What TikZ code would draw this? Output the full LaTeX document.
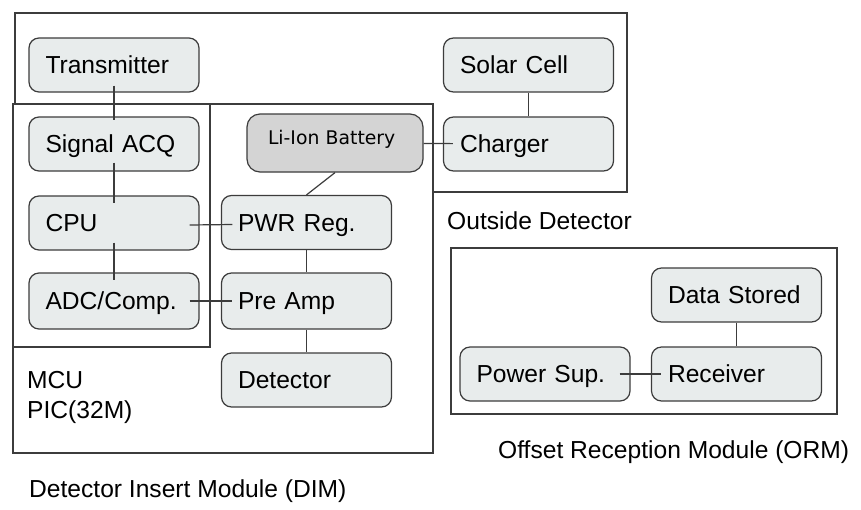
\documentclass[tikz,border=0pt]{standalone}
\usepackage{fontspec}
\setmainfont{Liberation Sans}
\newfontfamily\batfont{DejaVu Sans}
\definecolor{boxfill}{HTML}{E8ECEC}
\definecolor{batfill}{HTML}{D4D4D4}
\definecolor{edge}{HTML}{3C3C3C}
\begin{document}
\begin{tikzpicture}[x=1pt,y=-1pt,
  blk/.style={draw=edge, line width=1.2pt, fill=boxfill, rounded corners=10pt,
    minimum width=170pt, minimum height=54pt, text width=137pt, inner xsep=16.5pt, inner ysep=2pt,
    align=left, font=\fontsize{24.6}{28}\selectfont, text height=17.5pt, text depth=0pt},
  frame/.style={draw=edge, line width=1.2pt},
  link/.style={draw=edge, line width=1.2pt},
  lbl/.style={anchor=base west, inner sep=0pt, font=\fontsize{24.6}{28}\selectfont}]
\useasboundingbox (0,0) rectangle (861,509);
% frames
\draw[frame, fill=white] (15,13) rectangle (627,192);
\draw[frame, fill=white] (13,104) rectangle (433,453);
\draw[frame, line width=1.6pt] (13,104) rectangle (210,347);
\draw[frame] (451,248) rectangle (837,414);
% blocks
\node[blk] (tx) at (114,65) {Transmitter};
\node[blk] (sig) at (114,144) {Signal ACQ};
\node[blk] (cpu) at (114,223) {CPU};
\node[blk, minimum height=56pt] (adc) at (114,301) {ADC/Comp.};
\node[blk] (pwr) at (306.5,222.5) {PWR Reg.};
\node[blk, minimum height=56pt] (pre) at (306.5,301) {Pre Amp};
\node[blk] (det) at (306.5,380) {Detector};
\node[blk, fill=batfill, font=\batfont\fontsize{18.8}{22}\selectfont, minimum width=176pt,
  minimum height=58pt, text width=134pt, inner xsep=21pt, text height=14pt, text depth=12pt,
  rounded corners=13pt] (bat) at (335,143) {Li-Ion Battery};
\node[blk] (solar) at (528.5,65) {Solar Cell};
\node[blk] (chg) at (528.5,144) {Charger};
\node[blk] (data) at (736.5,295) {Data Stored};
\node[blk] (rcv) at (736.5,374) {Receiver};
\node[blk] (psu) at (545,374) {Power Sup.};
% connectors
\draw[link, shorten <=-7pt, shorten >=-4pt] (tx) -- (sig);
\draw[link, shorten <=-9pt, shorten >=-8pt] (sig) -- (cpu);
\draw[link, shorten <=-8pt, shorten >=-8pt] (cpu) -- (adc);
\draw[link] ([xshift=-10pt,yshift=-2pt]cpu.east) -- ([xshift=11.5pt,yshift=-2pt]pwr.west);
\draw[link, shorten <=-10pt, shorten >=-11.5pt] (adc) -- (pre);
\draw[link] (pwr) -- (pre);
\draw[link] (pre) -- (det);
\draw[link] (bat.south) -- (pwr.north);
\draw[link, shorten >=-10pt] (bat) -- (chg);
\draw[link] (solar) -- (chg);
\draw[link] (data) -- (rcv);
\draw[link, shorten <=-11pt, shorten >=-10.5pt] (psu) -- (rcv);
% labels
\node[lbl] (od) at (447,229) {Outside Detector};
\node[lbl] (mcu) at (27,388) {MCU};
\node[lbl] (pic) at (27,418) {PIC(32M)};
\node[lbl] (dim) at (29,497) {Detector Insert Module (DIM)};
\node[lbl] (orm) at (498,458) {Offset Reception Module (ORM)};
\end{tikzpicture}
\end{document}
